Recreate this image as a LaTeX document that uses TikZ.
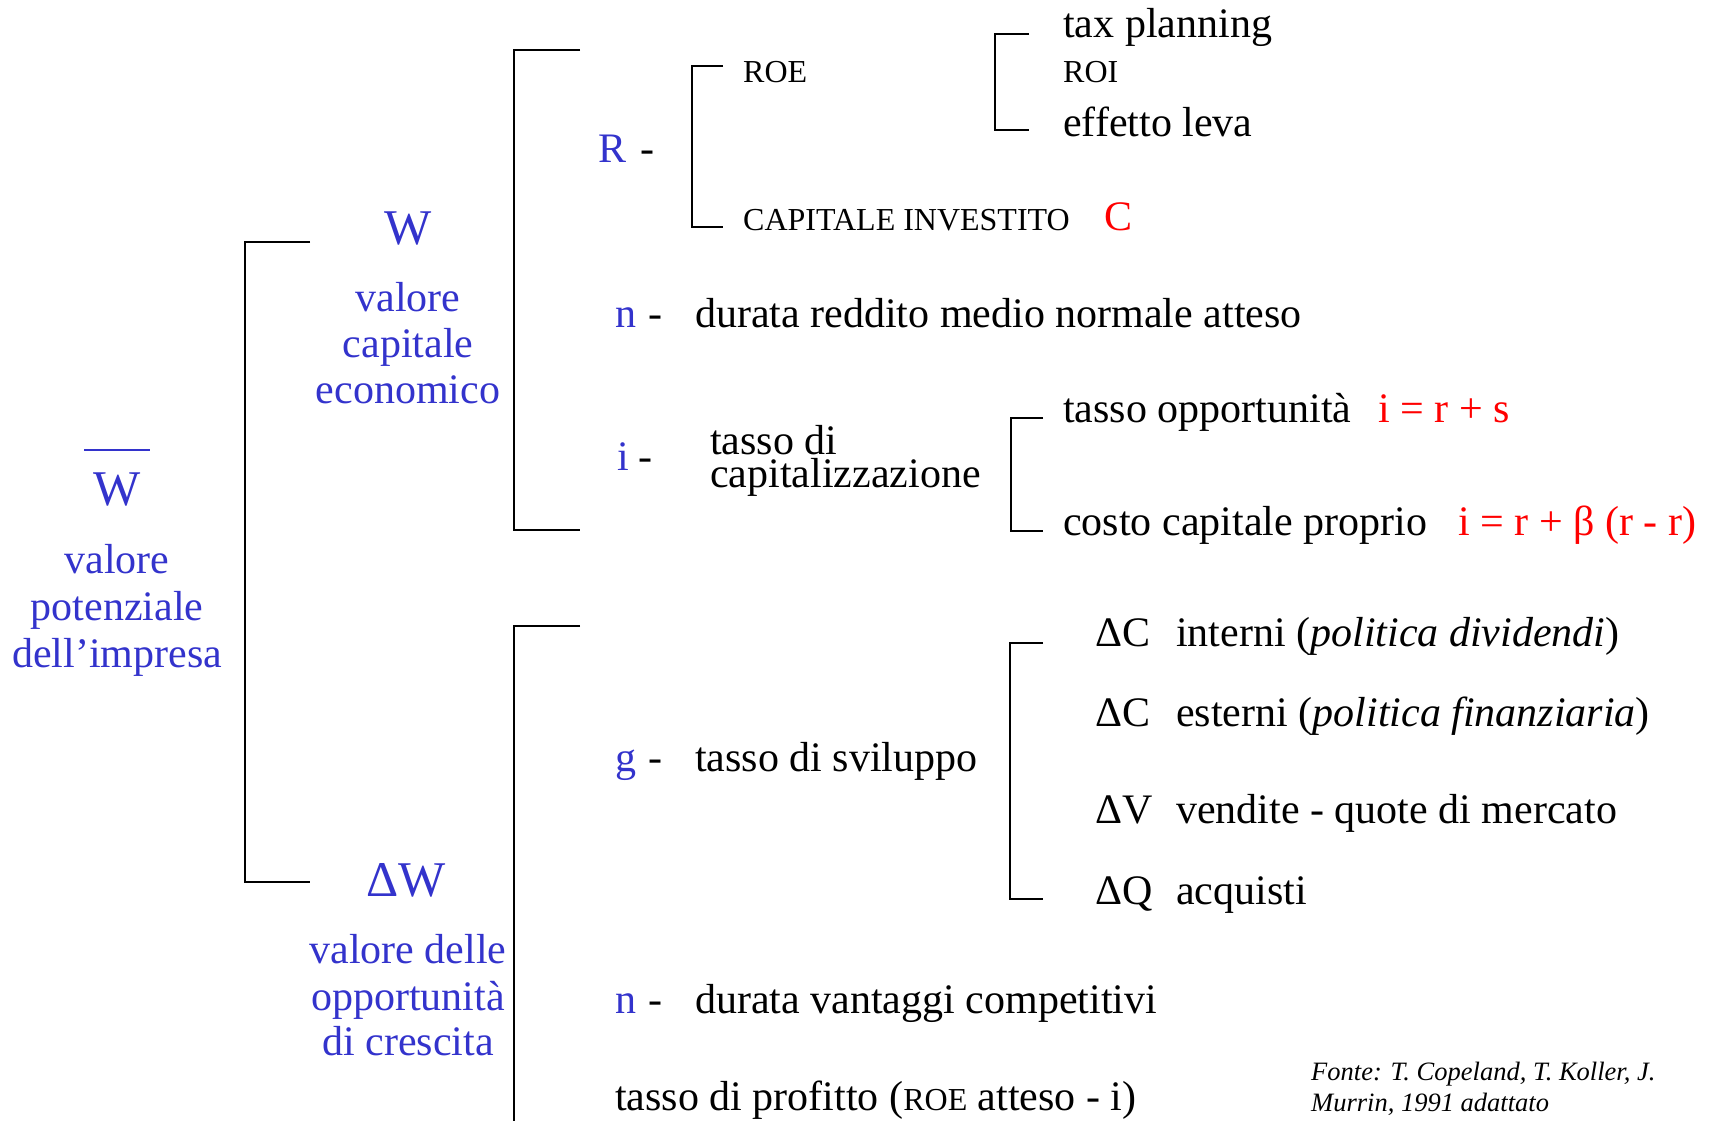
\documentclass[tikz,border=0pt]{standalone}
\usepackage{fontspec}
\setmainfont{Liberation Serif}
\definecolor{wblue}{HTML}{3333CC}
\definecolor{fred}{HTML}{FF0000}
\newcommand\FMain{\fontsize{42}{46}\selectfont}
\newcommand\FBig{\fontsize{50}{56}\selectfont}
\newcommand\FSmall{\fontsize{32}{36}\selectfont}
\newcommand\FNote{\fontsize{26.5}{30}\selectfont}
\tikzset{
  lbl/.style={inner sep=0pt, anchor=base west, font=\FMain},
  clbl/.style={inner sep=0pt, anchor=base, font=\FMain, text=wblue},
  bigw/.style={inner sep=0pt, anchor=base, font=\FBig, text=wblue},
  var/.style={inner sep=0pt, anchor=base west, font=\FMain, text=wblue},
  small/.style={inner sep=0pt, anchor=base west, font=\FSmall},
  note/.style={inner sep=0pt, anchor=base west, font=\FNote\itshape},
  formula/.style={inner sep=0pt, anchor=base west, font=\FMain, text=fred},
  brk/.style={draw=black, line width=2pt}
}
\begin{document}
\begin{tikzpicture}[x=1pt,y=-1pt]
\useasboundingbox (0,0) rectangle (1716,1121);

% ---- brackets ----
\draw[brk] (310,242) -- (245,242) -- (245,882) -- (310,882);
\draw[brk] (580,50) -- (514,50) -- (514,530) -- (580,530);
\draw[brk] (580,626) -- (514,626) -- (514,1121);
\draw[brk] (723,66) -- (692,66) -- (692,227) -- (723,227);
\draw[brk] (1029,34) -- (995,34) -- (995,130) -- (1029,130);
\draw[brk] (1043,418) -- (1011,418) -- (1011,531) -- (1043,531);
\draw[brk] (1043,643) -- (1010,643) -- (1010,899) -- (1043,899);

% ---- W bar: valore potenziale ----
\node[bigw] (wbar) at (117,505) {W};
\draw[wblue, line width=2.5pt] (84,450) -- (150,450);
\node[clbl] (vp1) at (117,573) {valore};
\node[clbl] (vp2) at (117,620) {potenziale};
\node[clbl] (vp3) at (117,667) {dell’impresa};

% ---- W: valore capitale economico ----
\node[bigw] (w1) at (408,244) {W};
\node[clbl] (vc1) at (408,311) {valore};
\node[clbl] (vc2) at (408,357) {capitale};
\node[clbl] (vc3) at (408,403) {economico};

% ---- Delta W ----
\node[bigw] (dw) at (406,896) {ΔW};
\node[clbl] (vo1) at (408,963) {valore delle};
\node[clbl] (vo2) at (408,1010) {opportunità};
\node[clbl] (vo3) at (408,1055) {di crescita};

% ---- R ----
\node[var] (rv) at (598,162) {R};
\node[lbl] (rd) at (640,162) {-};
\node[small] (roe) at (743,83) {ROE};
\node[small] (capinv) at (743,230) {CAPITALE INVESTITO};
\node[inner sep=0pt, anchor=base west, font=\fontsize{42}{46}\selectfont, text=fred] (cred) at (1104,230) {C};
\node[lbl] (tax) at (1063,38) {tax planning};
\node[small] (roi) at (1063,83) {ROI};
\node[lbl] (leva) at (1063,136) {effetto leva};

% ---- n (upper) ----
\node[var] (n1) at (615,327) {n};
\node[lbl] (n1d) at (648,327) {-};
\node[lbl] (durata1) at (695,327) {durata reddito medio normale atteso};

% ---- i ----
\node[var] (iv) at (617,470) {i};
\node[lbl] (id) at (638,470) {-};
\node[lbl] (tcap1) at (710,454) {tasso di};
\node[lbl] (tcap2) at (710,487) {capitalizzazione};
\node[lbl] (topp) at (1063,422) {tasso opportunità};
\node[formula] (f1) at (1378,422) {i = r + s};
\node[lbl] (ccp) at (1063,535) {costo capitale proprio};
\node[formula] (f2) at (1458,535) {i = r + β (r - r)};

% ---- g ----
\node[var] (gv) at (615,771) {g};
\node[lbl] (gd) at (648,771) {-};
\node[lbl] (svil) at (695,771) {tasso di sviluppo};
\node[lbl] (dc1) at (1095,646) {ΔC};
\node[lbl] (int) at (1176,646) {interni (\textit{politica dividendi})};
\node[lbl] (dc2) at (1095,726) {ΔC};
\node[lbl] (est) at (1176,726) {esterni (\textit{politica finanziaria})};
\node[lbl] (dv) at (1095,823) {ΔV};
\node[lbl] (vend) at (1176,823) {vendite - quote di mercato};
\node[lbl] (dq) at (1095,904) {ΔQ};
\node[lbl] (acq) at (1176,904) {acquisti};

% ---- n (lower) ----
\node[var] (n2) at (615,1013) {n};
\node[lbl] (n2d) at (648,1013) {-};
\node[lbl] (durata2) at (695,1013) {durata vantaggi competitivi};

% ---- tasso di profitto ----
\node[lbl] (prof) at (615,1110) {tasso di profitto ({\FSmall ROE} atteso - i)};

% ---- source ----
\node[note] (fonte1) at (1311,1080) {Fonte: T. Copeland, T. Koller, J.};
\node[note] (fonte2) at (1311,1111) {Murrin, 1991 adattato};
\end{tikzpicture}
\end{document}
